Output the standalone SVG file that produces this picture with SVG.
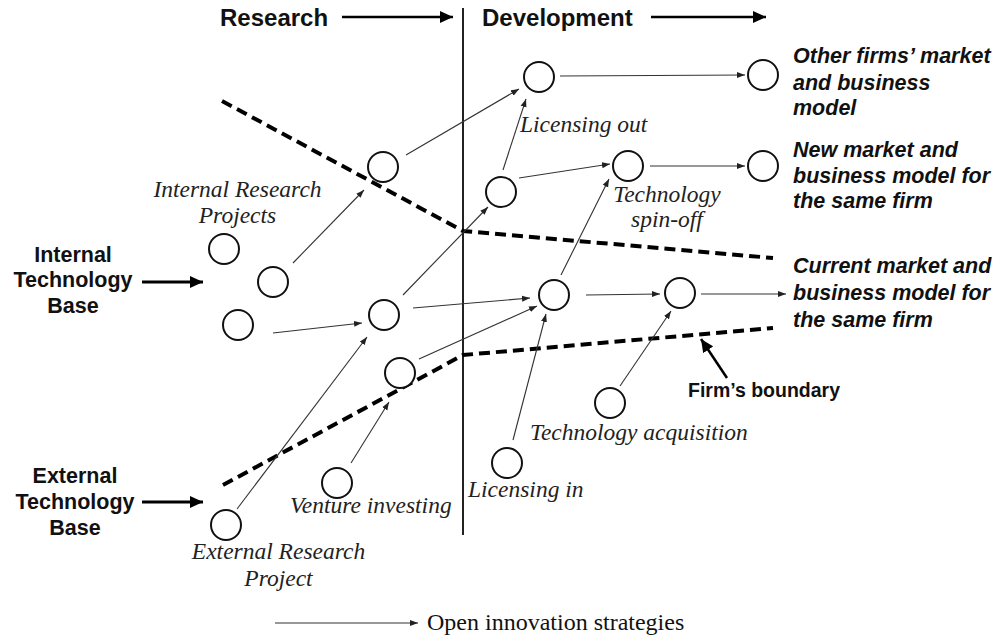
<svg xmlns="http://www.w3.org/2000/svg" width="1005" height="638" viewBox="0 0 1005 638">
  <defs>
    <style>
      .node { fill: #fff; stroke: #111; stroke-width: 2; }
      .link { fill: none; stroke: #333; stroke-width: 1.1; marker-end: url(#tip); }
      .bound { fill: none; stroke: #000; stroke-width: 4; stroke-dasharray: 11 6; }
      .head { font-family: "Liberation Sans", Arial, sans-serif; font-weight: bold; font-size: 24px; fill: #111; }
      .side { font-family: "Liberation Sans", Arial, sans-serif; font-weight: bold; font-size: 21.5px; fill: #111; text-anchor: middle; }
      .market { font-family: "Liberation Sans", Arial, sans-serif; font-weight: bold; font-style: italic; font-size: 21.5px; fill: #111; }
      .strat { font-family: "Liberation Serif", "Times New Roman", serif; font-style: italic; font-size: 23.5px; fill: #222; }
      .legend { font-family: "Liberation Serif", "Times New Roman", serif; font-size: 24px; fill: #111; }
      .bold-arrow { fill: none; stroke: #000; stroke-width: 3; marker-end: url(#bigtip); }
      .head-arrow { fill: none; stroke: #000; stroke-width: 2.5; marker-end: url(#bigtip); }
    </style>
    <marker id="tip" markerUnits="userSpaceOnUse" markerWidth="9" markerHeight="7" refX="8" refY="3.5" orient="auto">
      <path d="M0,0.5 L8,3.5 L0,6.5 Z" fill="#222"/>
    </marker>
    <marker id="bigtip" markerUnits="userSpaceOnUse" markerWidth="14" markerHeight="12" refX="13" refY="6" orient="auto">
      <path d="M0,0 L13,6 L0,12 Z" fill="#000"/>
    </marker>
  </defs>

  <rect width="1005" height="638" fill="#fff"/>

  <!-- Phase headers and divider -->
  <g id="header-research">
    <text class="head" x="220" y="26">Research</text>
    <line class="head-arrow" x1="342" y1="17" x2="453" y2="17"/>
  </g>
  <g id="header-development">
    <text class="head" x="482" y="26">Development</text>
    <line class="head-arrow" x1="651" y1="17" x2="766" y2="17"/>
  </g>
  <line id="divider" x1="463" y1="8" x2="463" y2="535" stroke="#222" stroke-width="2"/>

  <!-- Firm boundary (dashed) -->
  <g id="firm-boundary">
    <polyline class="bound" points="222,101 463,231 773,258"/>
    <polyline class="bound" points="223,485 463,355 773,328"/>
  </g>

  <!-- Technology bases -->
  <g id="internal-base">
    <text class="side" x="73" y="262">Internal</text>
    <text class="side" x="73" y="287">Technology</text>
    <text class="side" x="73" y="313">Base</text>
    <line class="bold-arrow" x1="142" y1="282" x2="203" y2="282"/>
  </g>
  <g id="external-base">
    <text class="side" x="75" y="483">External</text>
    <text class="side" x="75" y="509">Technology</text>
    <text class="side" x="75" y="535">Base</text>
    <line class="bold-arrow" x1="142" y1="502" x2="203" y2="502"/>
  </g>

  <!-- Project nodes -->
  <g id="n-int1"><circle class="node" cx="224" cy="249" r="15"/></g>
  <g id="n-int2"><circle class="node" cx="273" cy="282" r="15"/></g>
  <g id="n-int3"><circle class="node" cx="238" cy="325" r="15"/></g>
  <g id="n-res1"><circle class="node" cx="383" cy="167" r="15"/></g>
  <g id="n-res2"><circle class="node" cx="384" cy="315" r="15"/></g>
  <g id="n-res3"><circle class="node" cx="400" cy="373" r="15"/></g>
  <g id="n-venture"><circle class="node" cx="337" cy="483" r="15"/></g>
  <g id="n-ext"><circle class="node" cx="226" cy="525" r="15"/></g>
  <g id="n-lic-out"><circle class="node" cx="539" cy="77" r="15"/></g>
  <g id="n-dev1"><circle class="node" cx="501" cy="192" r="15"/></g>
  <g id="n-spin"><circle class="node" cx="628" cy="166" r="15"/></g>
  <g id="n-dev2"><circle class="node" cx="554" cy="295" r="15"/></g>
  <g id="n-dev3"><circle class="node" cx="680" cy="293" r="15"/></g>
  <g id="n-acq"><circle class="node" cx="610" cy="403" r="15"/></g>
  <g id="n-lic-in"><circle class="node" cx="507" cy="463" r="15"/></g>
  <g id="n-other-market"><circle class="node" cx="763" cy="75" r="15"/></g>
  <g id="n-new-market"><circle class="node" cx="763" cy="166" r="15"/></g>

  <!-- Connectors -->
  <g id="connectors">
    <line class="link" x1="293" y1="263" x2="364" y2="190"/>
    <line class="link" x1="406" y1="155" x2="519" y2="89"/>
    <line class="link" x1="560" y1="76" x2="745" y2="75"/>
    <line class="link" x1="503" y1="170" x2="526" y2="99"/>
    <line class="link" x1="519" y1="178" x2="610" y2="164"/>
    <line class="link" x1="650" y1="166" x2="745" y2="166"/>
    <line class="link" x1="403" y1="295" x2="488" y2="207"/>
    <line class="link" x1="561" y1="275" x2="609" y2="179"/>
    <line class="link" x1="413" y1="308" x2="530" y2="298"/>
    <line class="link" x1="273" y1="333" x2="362" y2="323"/>
    <line class="link" x1="237" y1="509" x2="367" y2="337"/>
    <line class="link" x1="419" y1="359" x2="537" y2="306"/>
    <line class="link" x1="351" y1="463" x2="389" y2="402"/>
    <line class="link" x1="513" y1="440" x2="546" y2="314"/>
    <line class="link" x1="620" y1="386" x2="671" y2="311"/>
    <line class="link" x1="586" y1="295" x2="660" y2="294"/>
    <line class="link" x1="701" y1="294" x2="786" y2="294"/>
  </g>

  <!-- Strategy labels -->
  <g id="labels">
    <text class="strat" x="237.5" y="197" text-anchor="middle">Internal Research</text>
    <text class="strat" x="237.5" y="223" text-anchor="middle">Projects</text>
    <text class="strat" x="520" y="132">Licensing out</text>
    <text class="strat" x="667" y="202" text-anchor="middle">Technology</text>
    <text class="strat" x="667" y="227" text-anchor="middle">spin-off</text>
    <text class="strat" x="530" y="440">Technology acquisition</text>
    <text class="strat" x="468" y="497">Licensing in</text>
    <text class="strat" x="290" y="513">Venture investing</text>
    <text class="strat" x="278.5" y="559" text-anchor="middle">External Research</text>
    <text class="strat" x="278.5" y="586" text-anchor="middle">Project</text>
  </g>

  <!-- Market outcomes -->
  <g id="market-other">
    <text class="market" x="793" y="63">Other firms’ market</text>
    <text class="market" x="793" y="90">and business</text>
    <text class="market" x="793" y="115">model</text>
  </g>
  <g id="market-new">
    <text class="market" x="793" y="157">New market and</text>
    <text class="market" x="793" y="183">business model for</text>
    <text class="market" x="793" y="208">the same firm</text>
  </g>
  <g id="market-current">
    <text class="market" x="793" y="273">Current market and</text>
    <text class="market" x="793" y="300">business model for</text>
    <text class="market" x="793" y="327">the same firm</text>
  </g>

  <!-- Boundary callout -->
  <g id="boundary-callout">
    <line class="head-arrow" x1="727" y1="378" x2="701" y2="339"/>
    <text class="head" style="font-size:19.5px" x="688" y="397">Firm’s boundary</text>
  </g>

  <!-- Legend -->
  <g id="legend">
    <line class="link" x1="275" y1="623" x2="418" y2="623"/>
    <text class="legend" x="427" y="630">Open innovation strategies</text>
  </g>
</svg>
